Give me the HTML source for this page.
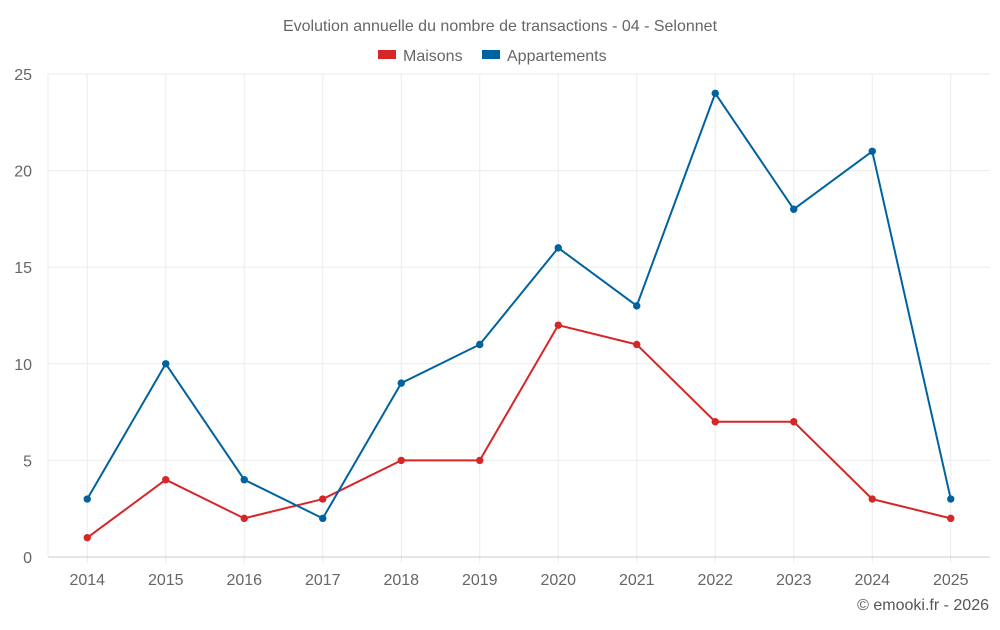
<!DOCTYPE html>
<html><head><meta charset="utf-8"><style>
body{margin:0;background:#fff;width:1000px;height:625px;overflow:hidden;font-family:"Liberation Sans",sans-serif;}
svg text{font-family:"Liberation Sans",sans-serif;}
</style></head><body>
<svg id="chart" width="1000" height="625" xmlns="http://www.w3.org/2000/svg">
<text x="500" y="31" text-anchor="middle" font-size="16" fill="#666">Evolution annuelle du nombre de transactions - 04 - Selonnet</text>
<g>
<g><rect x="378" y="50" width="18" height="9" fill="#d62728"/><text x="403" y="61" font-size="16" fill="#666">Maisons</text></g>
<g><rect x="482" y="50" width="18" height="9" fill="#00629e"/><text x="507" y="61" font-size="16" fill="#666">Appartements</text></g>
</g>
<g id="grid"></g><g id="axes"></g><g id="series"></g>
<text x="989" y="610" text-anchor="end" font-size="16" fill="#555">© emooki.fr - 2026</text>
</svg>
<script>
const years=[2014,2015,2016,2017,2018,2019,2020,2021,2022,2023,2024,2025];
const maisons=[1,4,2,3,5,5,12,11,7,7,3,2];
const appartements=[3,10,4,2,9,11,16,13,24,18,21,3];
const yTicks=[0,5,10,15,20,25];
const NS="http://www.w3.org/2000/svg";
const L=48,R=990,T=74,B=557;
const step=(R-L)/years.length;
const xs=i=>L+step*(i+0.5);
const ys=v=>B-(v/25)*(B-T);
function mk(tag,attrs,parent){const e=document.createElementNS(NS,tag);for(const k in attrs)e.setAttribute(k,attrs[k]);parent.appendChild(e);return e;}
const grid=document.getElementById('grid'),axes=document.getElementById('axes'),series=document.getElementById('series');
const left=mk('line',{x1:L,x2:L,y1:T,y2:B,stroke:'#ebebeb','stroke-width':1},grid);


years.forEach((y,i)=>{
 const l=mk('line',{x1:xs(i),x2:xs(i),y1:T,y2:B+6,stroke:'#ebebeb','stroke-width':1},grid);
 
 
});
yTicks.forEach(t=>{
 const l=mk('line',{x1:L,x2:R,y1:ys(t),y2:ys(t),stroke:t===0?'#ccc':'#ebebeb','stroke-width':1},grid);
 
 
 const tx=mk('text',{x:32,y:ys(t)+6,'text-anchor':'end','font-size':16,fill:'#666'},axes);
 tx.textContent=t;
 
 
});
years.forEach((y,i)=>{
 const tx=mk('text',{x:xs(i),y:585,'text-anchor':'middle','font-size':16,fill:'#666'},axes);
 tx.textContent=y;
 
 
});
function draw(vals,color,name){
 const g=mk('g',{},series);
 
 
 const p=mk('polyline',{points:vals.map((v,i)=>xs(i)+','+ys(v)).join(' '),fill:'none',stroke:color,'stroke-width':2},g);
 
 
 vals.forEach((v,i)=>{
  const c=mk('circle',{cx:xs(i),cy:ys(v),r:3.7,fill:color},g);
  
  
 });
}
draw(maisons,'#d62728','maisons');
draw(appartements,'#00629e','appartements');
</script>
</body></html>
